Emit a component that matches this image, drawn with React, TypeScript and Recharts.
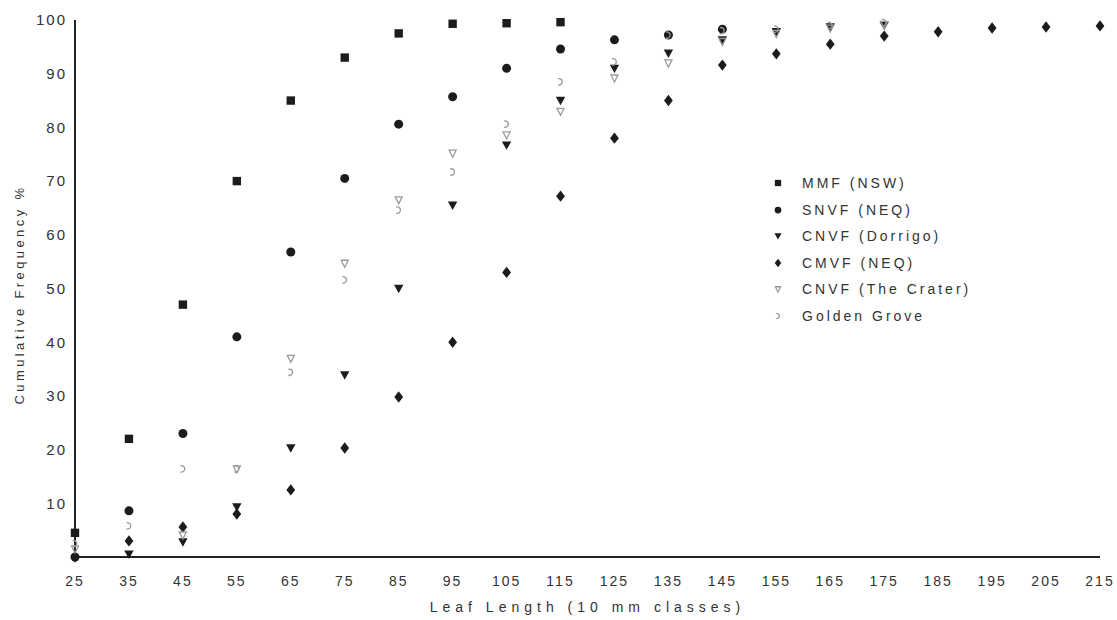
import { ScatterChart, Scatter, XAxis, YAxis, Legend } from 'recharts';

// leaf length classes (10 mm)
const classes = [25, 35, 45, 55, 65, 75, 85, 95, 105, 115, 125, 135, 145, 155, 165, 175, 185, 195, 205, 215];

// cumulative frequency %, null where no point is drawn
const mmfNsw = [4.5, 22, 47, 70, 85, 93, 97.5, 99.3, 99.4, 99.6, null, null, null, null, null, null, null, null, null, null];
const snvfNeq = [0, 8.6, 23, 41, 56.8, 70.5, 80.6, 85.7, 91, 94.6, 96.3, 97.2, 98.3, null, null, null, null, null, null, null];
const cnvfDorrigo = [null, 0.5, 2.8, 9.3, 20.3, 33.9, 50, 65.5, 76.7, 85, 91, 93.8, 96.3, 97.8, 98.7, 99, null, null, null, null];
const cmvfNeq = [0, 3, 5.6, 8, 12.5, 20.3, 29.8, 40, 53, 67.2, 78, 85, 91.6, 93.7, 95.5, 97, 97.8, 98.5, 98.7, 98.9];
const cnvfCrater = [1.5, null, 4.1, 16.4, 37, 54.7, 66.5, 75.2, 78.6, 83, 89.2, 92, 96, 97.5, 98.5, 99.2, null, null, null, null];
const goldenGrove = [2.5, 5.8, 16.4, 16.4, 34.4, 51.6, 64.6, 71.7, 80.6, 88.5, 92.2, 97.2, 98, 98.3, 99, 99.5, null, null, null, null];

const xTicks = [25, 35, 45, 55, 65, 75, 85, 95, 105, 115, 125, 135, 145, 155, 165, 175, 185, 195, 205, 215];
const yTicks = [10, 20, 30, 40, 50, 60, 70, 80, 90, 100];

const DARK = '#1c1c1c';
const LIGHT = '#9a9a9a';

const SERIES = [
  { name: 'MMF (NSW)', values: mmfNsw, marker: 'square', color: DARK },
  { name: 'SNVF (NEQ)', values: snvfNeq, marker: 'circle', color: DARK },
  { name: 'CNVF (Dorrigo)', values: cnvfDorrigo, marker: 'triangle', color: DARK },
  { name: 'CMVF (NEQ)', values: cmvfNeq, marker: 'diamond', color: DARK },
  { name: 'CNVF (The Crater)', values: cnvfCrater, marker: 'openTriangle', color: LIGHT },
  { name: 'Golden Grove', values: goldenGrove, marker: 'openCircle', color: LIGHT },
];

const FONT = '"Liberation Sans", Arial, sans-serif';

function Marker({ kind, cx, cy, color, s = 1 }: { kind: string; cx: number; cy: number; color: string; s?: number }) {
  switch (kind) {
    case 'square':
      return <rect x={cx - 4.2 * s} y={cy - 4.2 * s} width={8.4 * s} height={8.4 * s} fill={color} />;
    case 'circle':
      return <circle cx={cx} cy={cy} r={4.5 * s} fill={color} />;
    case 'triangle':
      return <path d={`M${cx - 4.7 * s},${cy - 3.7 * s}L${cx + 4.7 * s},${cy - 3.7 * s}L${cx},${cy + 4.7 * s}Z`} fill={color} />;
    case 'diamond':
      return <path d={`M${cx},${cy - 5.7 * s}L${cx + 4.4 * s},${cy}L${cx},${cy + 5.7 * s}L${cx - 4.4 * s},${cy}Z`} fill={color} />;
    case 'openTriangle':
      return <path d={`M${cx - 3.5 * s},${cy - 3 * s}L${cx + 3.5 * s},${cy - 3 * s}L${cx},${cy + 4 * s}Z`} fill="none" stroke={color} strokeWidth={1.3} />;
    default:
      return <path d={`M${cx - 2.5 * s},${cy - 3 * s}A${3.2 * s},${3.2 * s} 0 1 1 ${cx - 2.5 * s},${cy + 3 * s}`} fill="none" stroke={color} strokeWidth={1.3} />;
  }
}

function renderLegend() {
  return (
    <div style={{ fontFamily: FONT }}>
      {SERIES.map((s) => (
        <div key={s.name} style={{ display: 'flex', alignItems: 'center', height: 26.5 }}>
          <svg width={16} height={14} style={{ marginRight: 16 }}>
            <Marker kind={s.marker} cx={8} cy={7} color={s.color} s={0.75} />
          </svg>
          <span style={{ fontSize: 14, letterSpacing: 3, color: '#333' }}>{s.name}</span>
        </div>
      ))}
    </div>
  );
}

export default function App() {
  return (
    <div style={{ width: 1117, height: 620, background: '#fff' }}>
      <style>{'body{margin:0}'}</style>
      <ScatterChart width={1117} height={620} margin={{ top: 20, right: 17, bottom: 0, left: 0 }}>
        <XAxis
          type="number"
          dataKey="x"
          domain={[25, 215]}
          ticks={xTicks}
          interval={0}
          height={63}
          axisLine={{ stroke: '#222', strokeWidth: 2 }}
          tickLine={false}
          tickSize={6}
          tickMargin={13}
          tick={{ fill: '#333', fontSize: 14, fontFamily: FONT, letterSpacing: 2 }}
          label={{ value: 'Leaf Length (10 mm classes)', position: 'insideBottom', offset: 8, fill: '#333', fontSize: 14, fontFamily: FONT, letterSpacing: 5 }}
        />
        <YAxis
          type="number"
          dataKey="y"
          domain={[0, 100]}
          ticks={yTicks}
          interval={0}
          width={75}
          axisLine={{ stroke: '#222', strokeWidth: 2 }}
          tickLine={false}
          tickSize={4}
          tickMargin={4}
          tick={{ fill: '#333', fontSize: 15, fontFamily: FONT, letterSpacing: 2 }}
          label={{ value: 'Cumulative Frequency %', angle: -90, position: 'insideLeft', offset: 19, dy: 6, fill: '#333', fontSize: 13, fontFamily: FONT, letterSpacing: 3.4, style: { textAnchor: 'middle' } }}
        />
        <Legend content={renderLegend} layout="vertical" verticalAlign="middle" align="center" wrapperStyle={{ left: 770, top: 170, width: 260 }} />
        {SERIES.map((s) => (
          <Scatter
            key={s.name}
            name={s.name}
            data={classes.map((x, i) => ({ x, y: s.values[i] })).filter((d) => d.y != null)}
            isAnimationActive={false}
            shape={(p: any) => <Marker kind={s.marker} cx={p.cx} cy={p.cy} color={s.color} />}
          />
        ))}
      </ScatterChart>
    </div>
  );
}
